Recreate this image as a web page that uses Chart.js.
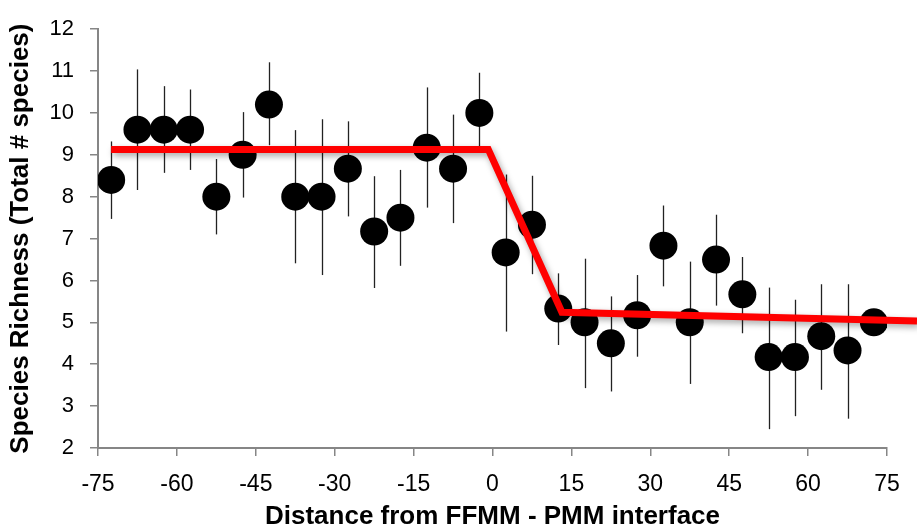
<!DOCTYPE html>
<html>
<head>
<meta charset="utf-8">
<script src="https://cdn.jsdelivr.net/npm/chart.js@4"></script>
<style>
  html, body { margin: 0; padding: 0; background: #fff; }
  #wrap { width: 917px; height: 532px; }
</style>
</head>
<body>
<div id="wrap"><canvas id="chart-richness"></canvas></div>
<script>
// distance bins (centre of each 5 m bin)
let distance = [
  -72.5, -67.5, -62.5, -57.5, -52.5, -47.5, -42.5, -37.5, -32.5, -27.5,
  -22.5, -17.5, -12.5, -7.5, -2.5, 2.5, 7.5, 12.5, 17.5, 22.5,
  27.5, 32.5, 37.5, 42.5, 47.5, 52.5, 57.5, 62.5, 67.5, 72.5,
];
let richness = [
  8.4, 9.6, 9.6, 9.6, 8.0, 9.0, 10.2, 8.0, 8.0, 8.67,
  7.17, 7.5, 9.17, 8.67, 10.0, 6.67, 7.33, 5.33, 5.0, 4.5,
  5.17, 6.83, 5.0, 6.5, 5.67, 4.17, 4.17, 4.67, 4.33, 5.0,
];
let errHigh = [
  9.32, 11.04, 10.64, 10.56, 8.9, 10.02, 11.21, 9.59, 9.85, 9.8,
  8.49, 8.64, 10.61, 9.96, 10.96, 8.53, 8.5, 6.17, 6.52, 5.62,
  6.13, 7.79, 6.45, 7.57, 6.56, 5.83, 5.54, 5.91, 5.91, 5.3,
];
let errLow = [
  7.47, 8.16, 8.57, 8.64, 7.1, 7.98, 9.23, 6.41, 6.13, 7.53,
  5.82, 6.35, 7.74, 7.37, 9.15, 4.78, 6.15, 4.46, 3.43, 3.35,
  4.18, 5.86, 3.53, 5.4, 4.74, 2.45, 2.76, 3.39, 2.7, 4.7,
];

// piecewise (breakpoint) fit
let fitX = [-72.5, -0.8, 13.2, 80.7];
let fitY = [9.13, 9.13, 5.24, 5.03];

let xTicks = [-75, -60, -45, -30, -15, 0, 15, 30, 45, 60, 75];

let axisGray = "#868686";

let errorBars = {
  id: "errorBars",
  beforeDatasetDraw: function (chart, args) {
    if (args.index !== 0) return;
    let ctx = chart.ctx;
    let xs = chart.scales.x;
    let ys = chart.scales.y;
    ctx.save();
    ctx.strokeStyle = "#222";
    ctx.lineWidth = 1.3;
    distance.forEach(function (d, i) {
      let px = Math.round(xs.getPixelForValue(d)) + 0.5;
      ctx.beginPath();
      ctx.moveTo(px, ys.getPixelForValue(errHigh[i]));
      ctx.lineTo(px, ys.getPixelForValue(errLow[i]));
      ctx.stroke();
    });
    ctx.restore();
  },
};

let lineShadow = {
  id: "lineShadow",
  beforeDatasetDraw: function (chart, args) {
    if (args.index !== 1) return;
    let ctx = chart.ctx;
    ctx.save();
    ctx.shadowColor = "rgba(0,0,0,0.35)";
    ctx.shadowBlur = 6;
    ctx.shadowOffsetX = 2;
    ctx.shadowOffsetY = 3;
  },
  afterDatasetDraw: function (chart, args) {
    if (args.index !== 1) return;
    chart.ctx.restore();
  },
};

let chartDraw = function () {
  let ctx = document.getElementById("chart-richness").getContext("2d");

  new Chart(ctx, {
    type: "scatter",
    data: {
      datasets: [
        {
          data: distance.map(function (d, i) {
            return { x: d, y: richness[i] };
          }),
          backgroundColor: "#000",
          borderColor: "#000",
          pointRadius: 14,
          pointHoverRadius: 14,
          borderWidth: 0,
          order: 2,
        },
        {
          type: "line",
          data: fitX.map(function (d, i) {
            return { x: d, y: fitY[i] };
          }),
          borderColor: "#ff0000",
          borderWidth: 7,
          pointRadius: 0,
          fill: false,
          tension: 0,
          clip: false,
          borderJoinStyle: "miter",
          order: 1,
        },
      ],
    },
    options: {
      responsive: true,
      maintainAspectRatio: false,
      animation: false,
      layout: {
        padding: { left: 0, right: 30, top: 23, bottom: 0 },
      },
      plugins: {
        legend: { display: false },
        tooltip: { enabled: false },
      },
      scales: {
        x: {
          type: "linear",
          min: -75,
          max: 75,
          afterBuildTicks: function (axis) {
            axis.ticks = xTicks.map(function (v) {
              return { value: v };
            });
          },
          afterFit: function (axis) {
            axis.height = 84;
          },
          border: { color: axisGray, width: 2 },
          grid: {
            drawOnChartArea: false,
            drawTicks: true,
            tickLength: 8,
            color: axisGray,
            lineWidth: 1.5,
          },
          ticks: {
            color: "#000",
            padding: 15,
            maxRotation: 0,
            font: { family: "'Liberation Sans', Arial", size: 23 },
          },
          title: {
            display: true,
            text: "Distance from FFMM - PMM interface",
            color: "#000",
            padding: { top: 1, bottom: 0 },
            font: { family: "'Liberation Sans', Arial", size: 26, weight: "bold", lineHeight: 1.2 },
          },
        },
        y: {
          min: 2,
          max: 12,
          afterFit: function (axis) {
            axis.width = 98;
          },
          border: { color: axisGray, width: 2 },
          grid: {
            drawOnChartArea: false,
            drawTicks: true,
            tickLength: 8,
            color: axisGray,
            lineWidth: 1.5,
          },
          ticks: {
            stepSize: 1,
            color: "#000",
            padding: 16,
            font: { family: "'Liberation Sans', Arial", size: 22 },
          },
          title: {
            display: true,
            text: "Species Richness (Total # species)",
            color: "#000",
            padding: { top: 5, bottom: 0 },
            font: { family: "'Liberation Sans', Arial", size: 26, weight: "bold" },
          },
        },
      },
    },
    plugins: [errorBars, lineShadow],
  });
};

window.onload = function () {
  chartDraw();
};
</script>
</body>
</html>
